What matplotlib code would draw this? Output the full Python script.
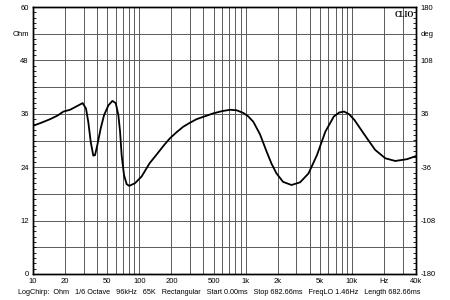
import numpy as np
import matplotlib.pyplot as plt
from matplotlib.ticker import FixedLocator, MultipleLocator, NullFormatter

# impedance curve (Hz, Ohm)
freq = [10, 12.0, 14.5, 17.0, 19.3, 22.3, 25.8, 29.3, 31.5, 33.1, 34.9, 36.9,
        38.3, 40.3, 43.3, 46.6, 51.2, 55.8, 60.0, 63.5, 65.9, 68.2, 71.8, 76.0,
        80.3, 91.0, 105, 125, 146, 170, 194, 225, 259, 300, 346, 420, 496, 600,
        711, 820, 950, 1060, 1181, 1364, 1575, 1750, 1950, 2250, 2700, 3250,
        3900, 4680, 5620, 6750, 7600, 8440, 9400, 10550, 13200, 16500, 20600,
        25500, 32900, 40000]
ohm = [33.3, 34.0, 34.8, 35.6, 36.5, 36.9, 37.7, 38.4, 37.2, 34.2, 29.7, 26.6,
       26.7, 29.0, 32.7, 35.7, 37.9, 38.9, 38.4, 35.7, 32.0, 26.7, 22.2, 20.2,
       19.8, 20.4, 21.9, 24.9, 26.9, 28.9, 30.5, 31.9, 33.1, 34.0, 34.8, 35.5,
       36.1, 36.6, 36.9, 36.8, 36.2, 35.4, 34.2, 31.4, 27.5, 24.8, 22.6, 20.7,
       20.0, 20.6, 22.6, 26.7, 32.0, 35.4, 36.3, 36.5, 35.9, 34.6, 31.2, 27.9,
       26.0, 25.4, 25.8, 26.5]

x_ticks = [10, 20, 50, 100, 200, 500, 1000, 2000, 5000, 10000, 20000, 40000]
x_labels = ['10', '20', '50', '100', '200', '500', '1k', '2k', '5k', '10k', 'Hz', '40k']
left_ticks = [0, 12, 24, 36, 48, 54, 60]
left_labels = ['0', '12', '24', '36', '48', 'Ohm', '60']
right_ticks = [-180, -108, -36, 36, 108, 144, 180]
right_labels = ['-180', '-108', '-36', '36', '108', 'deg', '180']
footer = ('LogChirp:  Ohm   1/6 Octave   96kHz   65K   Rectangular   Start 0.00ms   '
          'Stop 682.66ms   FreqLO 1.46Hz   Length 682.66ms')

plt.rcParams['font.family'] = ['Liberation Sans', 'DejaVu Sans']
fs = 5.5
grid_col = '#5a5a5a'

fig = plt.figure(figsize=(4.5, 3), dpi=100)
ax = fig.add_axes([33 / 450, 26 / 300, 383 / 450, 267 / 300])

ax.set_xscale('log')
ax.set_xlim(10, 40000)
ax.set_ylim(0, 60)

# vertical grid: every 1..9 x decade
vgrid = [m * 10 ** d for d in range(1, 5) for m in range(1, 10) if m * 10 ** d <= 40000]
for v in vgrid:
    ax.axvline(v, color=grid_col, lw=0.7, zorder=1)
for h in np.arange(6, 60, 6):
    ax.axhline(h, color=grid_col, lw=0.7, zorder=1)

ax.plot(freq, ohm, color='black', lw=1.3, zorder=3, solid_joinstyle='round')

ax.xaxis.set_major_locator(FixedLocator(x_ticks))
ax.set_xticklabels(x_labels, fontsize=fs)
ax.xaxis.set_minor_formatter(NullFormatter())
ax.tick_params(axis='x', which='both', length=0, pad=3)

ax.set_yticks(left_ticks)
ax.set_yticklabels(left_labels, fontsize=fs)
ax.yaxis.set_minor_locator(MultipleLocator(1.2))
ax.tick_params(axis='y', which='major', length=0, pad=3)
ax.tick_params(axis='y', which='minor', direction='in', length=2, width=0.6)

ax2 = ax.twinx()
ax2.set_ylim(-180, 180)
ax2.set_yticks(right_ticks)
ax2.set_yticklabels(right_labels, fontsize=fs)
ax2.yaxis.set_minor_locator(MultipleLocator(7.2))
ax2.tick_params(axis='y', which='major', length=0, pad=3)
ax2.tick_params(axis='y', which='minor', direction='in', length=2, width=0.6)

for a in (ax, ax2):
    for s in a.spines.values():
        s.set_linewidth(1.0)
        s.set_color('black')

ax.text(0.995, 0.985, 'CLIO', transform=ax.transAxes, ha='right', va='top',
        fontsize=5.5, fontweight='bold', family='Liberation Serif', zorder=5)

fig.text(0.486, 7 / 300, footer, ha='center', va='center', fontsize=5.2)

fig.savefig('out.png', dpi=100)
